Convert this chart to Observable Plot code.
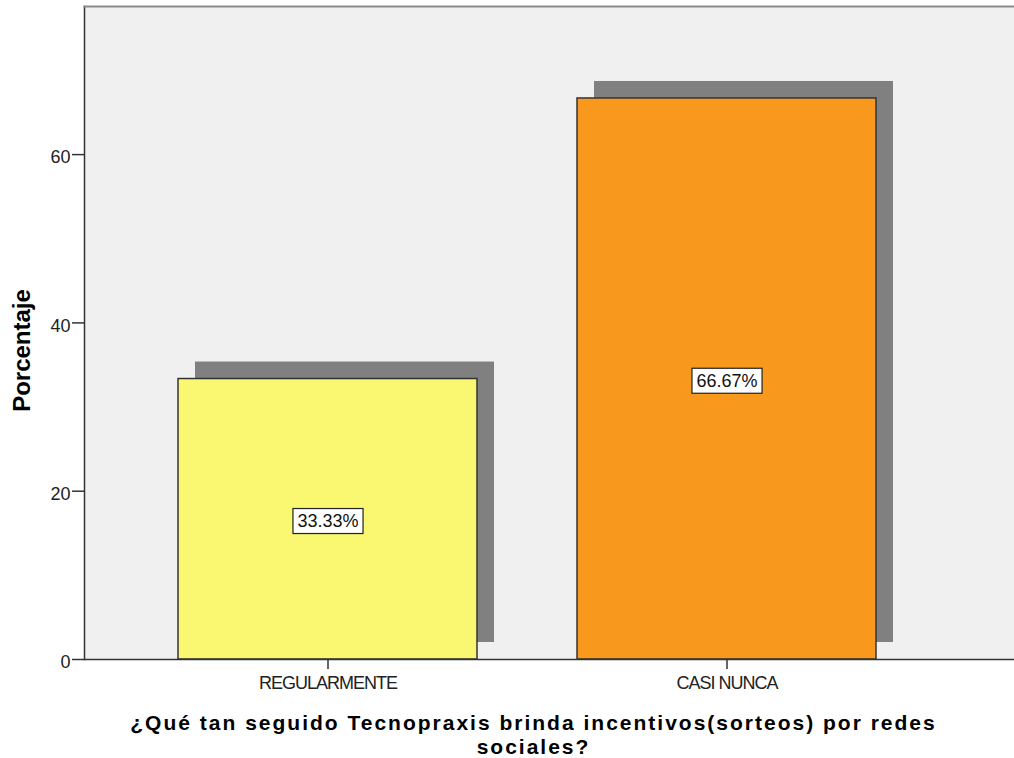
<!DOCTYPE html>
<html>
<head>
<meta charset="utf-8">
<script src="https://cdn.jsdelivr.net/npm/d3@7"></script>
<script src="https://cdn.jsdelivr.net/npm/@observablehq/plot@0.6"></script>
<style>
  html, body { margin: 0; padding: 0; background: #ffffff; }
  #chart { width: 1014px; height: 758px; }
  g[aria-label="x-axis tick label"] text { letter-spacing: -1px; }
</style>
</head>
<body>
<div id="chart"></div>
<script>
const categories = ["REGULARMENTE", "CASI NUNCA"];
const percentages = [33.33, 66.67];
const valueLabels = ["33.33%", "66.67%"];
const barColors = ["#faf771", "#f8991e"];
const yTicks = [0, 20, 40, 60];
const yLabel = "Porcentaje";
const titleLines = ["¿Qué tan seguido Tecnopraxis brinda incentivos(sorteos) por redes", "sociales?"];

const data = categories.map((c, i) => ({
  category: c,
  value: percentages[i],
  label: valueLabels[i],
  color: barColors[i]
}));

const chart = Plot.plot({
  width: 1014,
  height: 758,
  marginTop: 6,
  marginBottom: 99,
  marginLeft: 84,
  marginRight: 0,
  style: { fontFamily: "'Liberation Sans', Arial, sans-serif", background: "#ffffff", color: "#222" },
  x: { domain: categories, range: [84, 971], paddingInner: 0.25, paddingOuter: 0.23375, label: null },
  y: { domain: [0, 77.6], label: null },
  marks: [
    Plot.frame({ fill: "#f0f0f0", stroke: null }),
    Plot.barY(data, { x: "category", y: "value", fill: "#808080", dx: 17, dy: -17 }),
    Plot.barY(data, { x: "category", y: "value", fill: "color", stroke: "#333", strokeWidth: 1.5 }),
    Plot.ruleY([0], { stroke: "#333", strokeWidth: 1.5 }),
    Plot.frame({ anchor: "left", stroke: "#333", strokeWidth: 1.5 }),
    Plot.frame({ anchor: "top", stroke: "#8a8a8a", strokeWidth: 2 }),
    Plot.axisY(yTicks, { tickSize: 12, stroke: "#333", strokeWidth: 1.5, fill: null, label: null }),
    Plot.axisY(yTicks, { tickSize: 0, tickPadding: 14, fontSize: 18, fill: "#222", dy: 3, label: null }),
    Plot.axisX({ tickSize: 10, tickPadding: 7, fontSize: 18, stroke: "#333", strokeWidth: 1.5, fill: "#222", label: null }),
    Plot.text(data, { x: "category", y: d => d.value / 2, text: "label", fontSize: 18, fill: "#111", dy: 2 }),
    Plot.text([yLabel], { frameAnchor: "left", textAnchor: "middle", text: d => d, rotate: -90, dx: -62, dy: 17.5, fontSize: 24, fontWeight: "bold", fill: "#000" }),
    Plot.text([titleLines.join("\n")], { frameAnchor: "bottom", textAnchor: "middle", text: d => d, lineAnchor: "top", lineHeight: 1.13, dx: -16, dy: 54, fontSize: 21, fontWeight: "bold", fill: "#000", ariaLabel: "chart-title" })
  ]
});

document.getElementById("chart").appendChild(chart);

// wider letter spacing for the title, like the reference
chart.querySelectorAll("text").forEach(t => {
  if (t.textContent.startsWith(titleLines[0].slice(0, 8)) || t.textContent.includes(titleLines[1])) {
    t.style.letterSpacing = "2px";
  }
});

// white boxes behind the value labels
const ns = "http://www.w3.org/2000/svg";
chart.querySelectorAll("text").forEach(t => {
  if (!valueLabels.includes(t.textContent)) return;
  const bb = t.getBBox();
  const r = document.createElementNS(ns, "rect");
  const padX = 4.5, padY = 3.5;
  r.setAttribute("x", bb.x - padX);
  r.setAttribute("y", bb.y - padY + 1);
  r.setAttribute("width", bb.width + 2 * padX);
  r.setAttribute("height", bb.height + 2 * padY - 2);
  r.setAttribute("fill", "#ffffff");
  r.setAttribute("stroke", "#222");
  r.setAttribute("stroke-width", "1.2");
  const tr = t.getAttribute("transform");
  if (tr) r.setAttribute("transform", tr);
  t.parentNode.insertBefore(r, t);
});
</script>
</body>
</html>
